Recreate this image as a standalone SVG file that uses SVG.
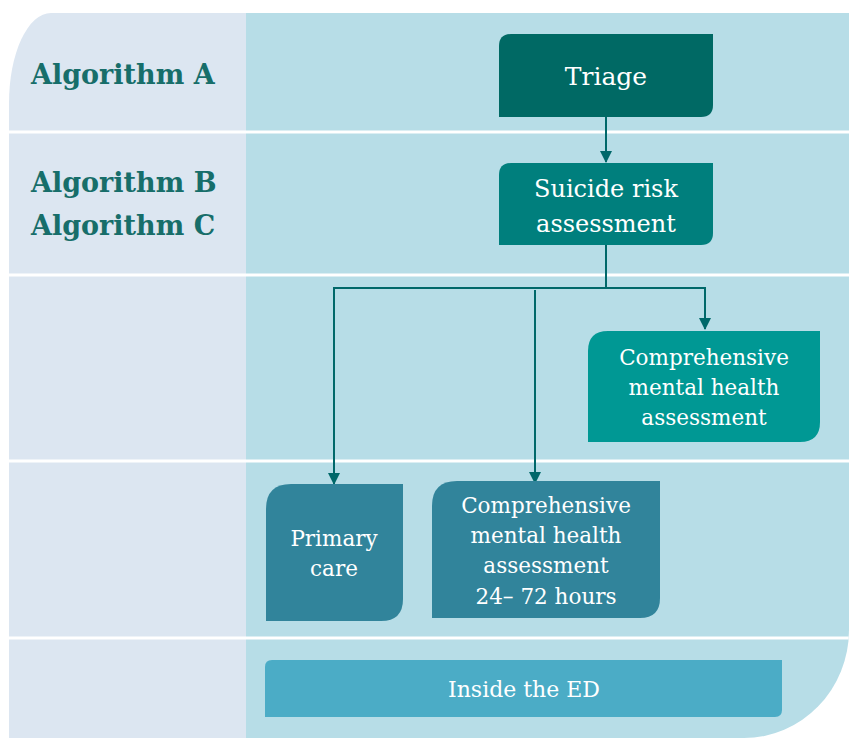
<svg xmlns="http://www.w3.org/2000/svg" width="849" height="738" viewBox="0 0 849 738">
  <defs>
    <marker id="arr" markerWidth="12" markerHeight="12" refX="11" refY="6" orient="auto" markerUnits="userSpaceOnUse">
      <path d="M0,0 L12,6 L0,12 Z" fill="#00686a"/>
    </marker>
    <clipPath id="bg">
      <path d="M51,13 L849,13 L849,630 A105,108 0 0 1 744,738 L9,738 L9,103 A42,90 0 0 1 51,13 Z"/>
    </clipPath>
  </defs>
  <style>
    .lbl { font-family: "DejaVu Serif", "Liberation Serif", serif; font-weight: bold; font-size: 27px; fill: #176e6a; }
    .nt { font-family: "DejaVu Serif", "Liberation Serif", serif; fill: #ffffff; text-anchor: middle; }
    .conn { fill: none; stroke: #00686a; stroke-width: 2; }
    .sep { stroke: #ffffff; stroke-width: 3; }
  </style>
  <rect width="849" height="738" fill="#ffffff"/>
  <g id="background" clip-path="url(#bg)">
    <rect x="0" y="0" width="246" height="738" fill="#dce6f1"/>
    <rect x="246" y="0" width="603" height="738" fill="#b7dde7"/>
    <line class="sep" x1="0" y1="132" x2="849" y2="132"/>
    <line class="sep" x1="0" y1="275" x2="849" y2="275"/>
    <line class="sep" x1="0" y1="461" x2="849" y2="461"/>
    <line class="sep" x1="0" y1="638" x2="849" y2="638"/>
  </g>
  <g id="row-labels">
    <text class="lbl" x="31" y="84">Algorithm A</text>
    <text class="lbl" x="31" y="192">Algorithm B</text>
    <text class="lbl" x="31" y="235">Algorithm C</text>
  </g>
  <g id="connectors">
    <line class="conn" x1="606" y1="117" x2="606" y2="162" marker-end="url(#arr)"/>
    <polyline class="conn" points="606,245 606,288 334,288 334,484" marker-end="url(#arr)"/>
    <polyline class="conn" points="606,288 705,288 705,329" marker-end="url(#arr)"/>
    <line class="conn" x1="535" y1="290" x2="535" y2="483" marker-end="url(#arr)"/>
  </g>
  <g id="triage">
    <path d="M511,34 L713,34 L713,105 Q713,117 701,117 L499,117 L499,46 Q499,34 511,34 Z" fill="#006964"/>
    <text class="nt" x="606" y="85" font-size="25">Triage</text>
  </g>
  <g id="suicide-risk">
    <path d="M511,163 L713,163 L713,233 Q713,245 701,245 L499,245 L499,175 Q499,163 511,163 Z" fill="#007f7d"/>
    <text class="nt" x="606" y="197" font-size="24">Suicide risk</text>
    <text class="nt" x="606" y="232" font-size="24">assessment</text>
  </g>
  <g id="cmh-assessment">
    <path d="M608,331 L820,331 L820,422 Q820,442 800,442 L588,442 L588,351 Q588,331 608,331 Z" fill="#009894"/>
    <text class="nt" x="704" y="365" font-size="21.5">Comprehensive</text>
    <text class="nt" x="704" y="395" font-size="21.5">mental health</text>
    <text class="nt" x="704" y="425" font-size="21.5">assessment</text>
  </g>
  <g id="primary-care">
    <path d="M291,484 L403,484 L403,599 Q403,621 381,621 L266,621 L266,509 Q266,484 291,484 Z" fill="#31849b"/>
    <text class="nt" x="334" y="546" font-size="21.5">Primary</text>
    <text class="nt" x="334" y="576" font-size="21.5">care</text>
  </g>
  <g id="cmh-24-72">
    <path d="M457,481 L660,481 L660,598 Q660,618 640,618 L432,618 L432,506 Q432,481 457,481 Z" fill="#31849b"/>
    <text class="nt" x="546" y="513" font-size="21.5">Comprehensive</text>
    <text class="nt" x="546" y="543" font-size="21.5">mental health</text>
    <text class="nt" x="546" y="573" font-size="21.5">assessment</text>
    <text class="nt" x="546" y="604" font-size="21.5">24– 72 hours</text>
  </g>
  <g id="inside-ed">
    <path d="M272,660 L782,660 L782,710 Q782,717 775,717 L265,717 L265,667 Q265,660 272,660 Z" fill="#4bacc6"/>
    <text class="nt" x="524" y="697" font-size="22">Inside the ED</text>
  </g>
</svg>
